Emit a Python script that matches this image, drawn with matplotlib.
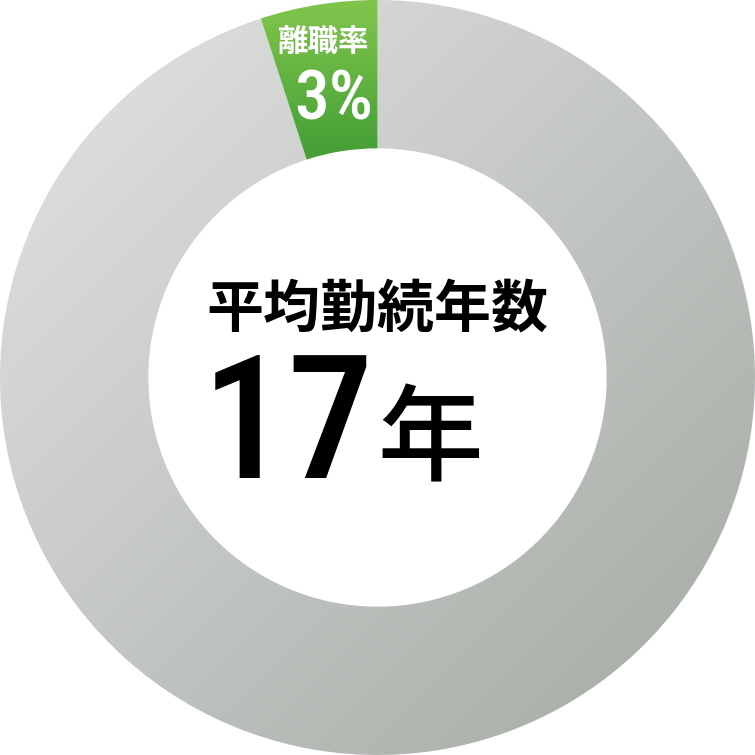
import numpy as np
import matplotlib.pyplot as plt
from matplotlib import font_manager
from matplotlib.colors import LinearSegmentedColormap

# values
segments = ["離職率", "在籍"]
shares = [5, 95]          # wedge size as drawn
rate_label = "3%"
center_title = "平均勤続年数"
center_value = "17"
center_unit = "年"

plt.rcParams['font.family'] = ['Noto Sans CJK JP', 'DejaVu Sans']

installed = {f.name for f in font_manager.fontManager.ttflist}
narrow = None
for name in ["Roboto Condensed", "Liberation Sans Narrow", "Open Sans Condensed",
             "DejaVu Sans Condensed", "Noto Sans Condensed"]:
    if name in installed:
        narrow = name
        break
if narrow is None:
    narrow = "Roboto"

fig = plt.figure(figsize=(7.55, 7.55), dpi=100)
ax = fig.add_axes([0, 0, 1, 1])

wedges, _ = ax.pie(shares, startangle=90, counterclock=True, radius=1.0,
                   wedgeprops=dict(width=0.393, linewidth=0))

# gradient fills clipped to each wedge
grey = LinearSegmentedColormap.from_list("grey", ["#e4e5e4", "#a2a8a2"])
green = LinearSegmentedColormap.from_list("green", ["#7ec44b", "#46a037"])

n = 400
xx, yy = np.meshgrid(np.linspace(-1, 1, n), np.linspace(1, -1, n))
diag = (xx - yy + 2) / 4

im = ax.imshow(diag, cmap=grey, extent=(-1, 1, -1, 1), origin="upper",
               vmin=0, vmax=1, zorder=2)
im.set_clip_path(wedges[1])
wedges[1].set_alpha(0)

vg = (0.98 - yy) / (0.98 - 0.6)
im2 = ax.imshow(np.clip(vg, 0, 1), cmap=green, extent=(-1, 1, -1, 1),
                origin="upper", vmin=0, vmax=1, zorder=2)
im2.set_clip_path(wedges[0])
wedges[0].set_alpha(0)

ax.set_xlim(-1.0, 1.0)
ax.set_ylim(-1.0, 1.0)
ax.set_aspect("equal")
ax.axis("off")

ax.text(-0.145, 0.886, segments[0], color="white", fontsize=22,
        fontweight="bold", ha="center", va="center", zorder=3)
ax.text(-0.115, 0.735, rate_label, color="white", fontsize=50,
        family=[narrow, "DejaVu Sans"], fontweight="medium",
        ha="center", va="center", zorder=3)

ax.text(0.0, 0.18, center_title, color="black", fontsize=41,
        fontweight="bold", ha="center", va="center", zorder=3)
ax.text(-0.008, -0.14, center_value, color="black", fontsize=124,
        family=[narrow, "DejaVu Sans"], fontweight="medium",
        ha="right", va="center", zorder=3)
ax.text(0.0, -0.175, center_unit, color="black", fontsize=76,
        fontweight="medium", ha="left", va="center", zorder=3)

fig.savefig("out.png", dpi=100)
